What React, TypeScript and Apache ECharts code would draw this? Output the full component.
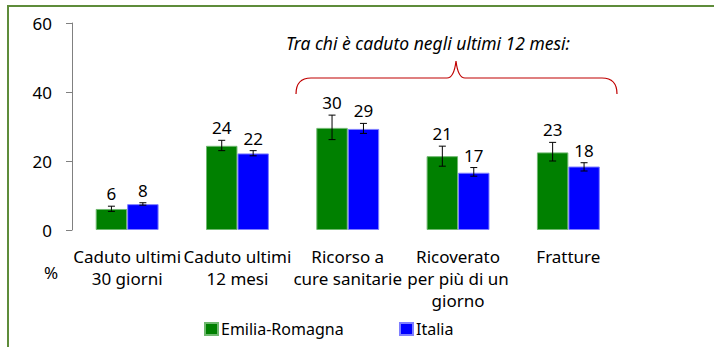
import React, { useEffect, useRef } from "react";
import * as echarts from "echarts";

const categories = [
  "Caduto ultimi\n30 giorni",
  "Caduto ultimi\n12 mesi",
  "Ricorso a\ncure sanitarie",
  "Ricoverato\nper più di un\ngiorno",
  "Fratture",
];
const seriesNames = ["Emilia-Romagna", "Italia"];
const erValues = [6.1, 24.4, 29.6, 21.4, 22.5];
const erLow = [5.4, 23.0, 26.2, 18.5, 20.0];
const erHigh = [6.9, 26.0, 33.3, 24.3, 25.4];
const itValues = [7.5, 22.2, 29.3, 16.6, 18.4];
const itLow = [7.2, 21.5, 28.0, 15.6, 17.1];
const itHigh = [7.9, 23.0, 30.9, 18.1, 19.5];
const yTicks = { min: 0, max: 60, interval: 20 };
const annotation = "Tra chi è caduto negli ultimi 12 mesi:";
const unitLabel = "%";

const FONT = "'Noto Sans', sans-serif";
const BRACE_D =
  "M296,94 Q296,78 311,78 L447,78 Q454,78 456,61 Q458,78 465,78 L602,78 Q617,78 617,94";

echarts.graphic.registerShape("brace", echarts.graphic.extendPath(BRACE_D, {}) as any);

function errorSeries(name: string, values: number[], lo: number[], hi: number[], side: number) {
  return {
    type: "custom",
    name: name + "-err",
    z: 5,
    data: values.map((v, i) => [i, v, lo[i], hi[i]]),
    renderItem: (params: any, api: any) => {
      const idx = api.value(0);
      const bw = api.size([1, 0])[0];
      const off = side * bw * 0.1425;
      const top = api.coord([idx, api.value(3)]);
      const bot = api.coord([idx, api.value(2)]);
      const x = top[0] + off;
      const cap = 3.5;
      const st = { stroke: "#000", lineWidth: 1 };
      return {
        type: "group",
        children: [
          { type: "line", shape: { x1: x, y1: top[1], x2: x, y2: bot[1] }, style: st },
          { type: "line", shape: { x1: x - cap, y1: top[1], x2: x + cap, y2: top[1] }, style: st },
          { type: "line", shape: { x1: x - cap, y1: bot[1], x2: x + cap, y2: bot[1] }, style: st },
          {
            type: "text",
            x: x,
            y: top[1] - 4,
            style: {
              text: String(Math.round(api.value(1))),
              align: "center",
              verticalAlign: "bottom",
              fontSize: 17,
              fontFamily: FONT,
              fill: "#000",
            },
          },
        ],
      };
    },
  };
}

export default function App() {
  const ref = useRef<HTMLDivElement>(null);
  useEffect(() => {
    if (!ref.current) return;
    const chart = echarts.init(ref.current, undefined, { renderer: "svg" });
    const legendBase = {
      top: 321,
      padding: 0,
      icon: "rect",
      itemWidth: 13,
      itemHeight: 12,
      textStyle: { fontSize: 16, color: "#000", fontFamily: FONT, padding: [0, 0, 0, -2] },
    };
    chart.setOption({
      animation: false,
      backgroundColor: "#fff",
      textStyle: { fontFamily: FONT },
      grid: { left: 72, right: 90.5, top: 23, bottom: 117, containLabel: false },
      legend: [
        { ...legendBase, data: [seriesNames[0]], left: 204 },
        { ...legendBase, data: [seriesNames[1]], left: 399 },
      ],
      xAxis: {
        type: "category",
        data: categories,
        axisLine: { show: false },
        axisTick: { show: false },
        axisLabel: {
          interval: 0,
          margin: 15,
          fontSize: 17,
          lineHeight: 22,
          color: "#000",
          fontFamily: FONT,
        },
      },
      yAxis: {
        type: "value",
        min: yTicks.min,
        max: yTicks.max,
        interval: yTicks.interval,
        splitLine: { show: false },
        axisLine: { show: true, lineStyle: { color: "#808080", width: 1 } },
        axisTick: { show: true, length: 6, lineStyle: { color: "#808080" } },
        axisLabel: { margin: 20, fontSize: 17, color: "#000", fontFamily: FONT },
      },
      series: [
        {
          type: "bar",
          name: seriesNames[0],
          data: erValues,
          barGap: "0%",
          barCategoryGap: "43%",
          itemStyle: { color: "#008000", borderColor: "#6fb86f", borderWidth: 1 },
        },
        {
          type: "bar",
          name: seriesNames[1],
          data: itValues,
          barGap: "0%",
          barCategoryGap: "43%",
          itemStyle: { color: "#0000FF", borderColor: "#7f7fff", borderWidth: 1 },
        },
        errorSeries(seriesNames[0], erValues, erLow, erHigh, -1),
        errorSeries(seriesNames[1], itValues, itLow, itHigh, 1),
      ],
      graphic: [
        {
          type: "rect",
          shape: { x: 8, y: 6, width: 730, height: 370 },
          style: { fill: "none", stroke: "#5E8C3A", lineWidth: 2 },
          silent: true,
        },
        {
          type: "text",
          x: 428,
          y: 43,
          style: {
            text: annotation,
            align: "center",
            verticalAlign: "middle",
            fontSize: 17.5,
            fontStyle: "italic",
            fontFamily: FONT,
            fill: "#000",
          },
        },
        {
          type: "brace",
          x: 0,
          y: 0,
          style: { fill: "none", stroke: "#C00000", lineWidth: 1.2 },
        },
        {
          type: "text",
          x: 51,
          y: 272,
          style: {
            text: unitLabel,
            align: "center",
            verticalAlign: "middle",
            fontSize: 17,
            fontFamily: FONT,
            fill: "#000",
          },
        },
      ],
    });
    return () => chart.dispose();
  }, []);
  return (
    <div
      ref={ref}
      style={{ position: "fixed", left: 0, top: 0, width: 714, height: 347 }}
    />
  );
}
